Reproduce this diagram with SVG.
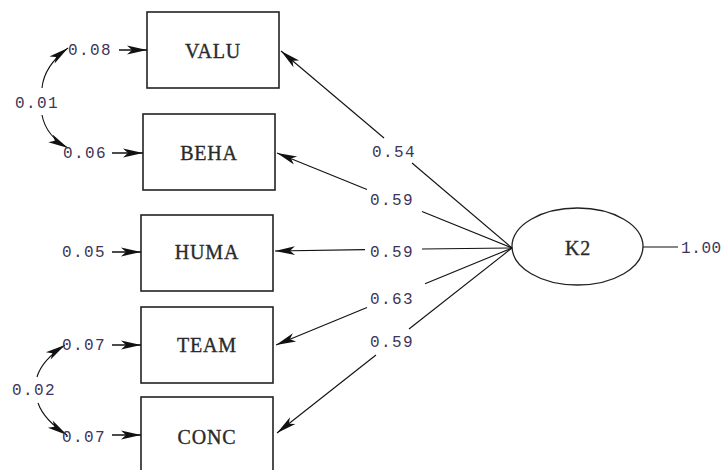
<svg xmlns="http://www.w3.org/2000/svg" width="724" height="470" viewBox="0 0 724 470">
  <style>
    .box { fill: #ffffff; stroke: #222222; stroke-width: 1.6; }
    .oval { fill: #ffffff; stroke: #222222; stroke-width: 1.3; }
    .name { font-family: "Liberation Serif", "DejaVu Serif", serif; font-size: 20px; letter-spacing: 0.8px; fill: #2a2a2a; stroke: #2a2a2a; stroke-width: 0.35; text-anchor: middle; }
    .num { font-family: "Liberation Mono", "DejaVu Sans Mono", monospace; font-size: 16px; letter-spacing: 1.4px; fill: #3d3558; }
    .path { fill: none; stroke: #111111; stroke-width: 1.1; }
    .err { fill: none; stroke: #111111; stroke-width: 1.5; }
  </style>
  <defs>
    <marker id="head" markerUnits="userSpaceOnUse" markerWidth="24" markerHeight="12" viewBox="-22 -6 24 12" refX="0" refY="0" orient="auto">
      <path d="M0,0 L-20,-4.4 L-15,0 L-20,4.4 Z" fill="#111111"/>
    </marker>
  </defs>
  <rect width="724" height="470" fill="#ffffff"/>

  <!-- observed variables -->
  <g id="VALU">
    <rect class="box" x="147" y="12" width="132" height="76"/>
    <text class="name" x="213" y="58">VALU</text>
  </g>
  <g id="BEHA">
    <rect class="box" x="143" y="114" width="132" height="76"/>
    <text class="name" x="209" y="160">BEHA</text>
  </g>
  <g id="HUMA">
    <rect class="box" x="141" y="215" width="132" height="76"/>
    <text class="name" x="207" y="259">HUMA</text>
  </g>
  <g id="TEAM">
    <rect class="box" x="141" y="307" width="132" height="76"/>
    <text class="name" x="207" y="352">TEAM</text>
  </g>
  <g id="CONC">
    <rect class="box" x="141" y="397" width="132" height="76"/>
    <text class="name" x="207" y="444">CONC</text>
  </g>

  <!-- latent variable -->
  <g id="K2">
    <ellipse class="oval" cx="577.5" cy="246.5" rx="65.5" ry="38.5"/>
    <text class="name" x="578" y="255">K2</text>
  </g>

  <!-- paths -->
  <g id="connectors">
    <!-- loadings from K2 -->
    <line class="path" x1="512" y1="248" x2="412" y2="163"/>
    <line class="path" x1="384" y1="138" x2="281" y2="51" marker-end="url(#head)"/>
    <line class="path" x1="512" y1="248" x2="422" y2="211.6"/>
    <line class="path" x1="367" y1="189.4" x2="277" y2="153" marker-end="url(#head)"/>
    <line class="path" x1="512" y1="248" x2="422" y2="249"/>
    <line class="path" x1="365" y1="249.6" x2="275" y2="251" marker-end="url(#head)"/>
    <line class="path" x1="512" y1="248" x2="425" y2="283.8"/>
    <line class="path" x1="367" y1="307.6" x2="276" y2="345" marker-end="url(#head)"/>
    <line class="path" x1="512" y1="248" x2="409" y2="329"/>
    <line class="path" x1="376" y1="355" x2="277" y2="433" marker-end="url(#head)"/>

    <!-- variance of K2 -->
    <line class="path" x1="643" y1="247" x2="678" y2="247"/>

    <!-- error terms -->
    <line class="err" x1="119" y1="50" x2="147" y2="50" marker-end="url(#head)"/>
    <line class="err" x1="112" y1="153" x2="143" y2="153" marker-end="url(#head)"/>
    <line class="err" x1="112" y1="252" x2="141" y2="252" marker-end="url(#head)"/>
    <line class="err" x1="112" y1="345" x2="141" y2="345" marker-end="url(#head)"/>
    <line class="err" x1="112" y1="435" x2="141" y2="435" marker-end="url(#head)"/>

    <!-- error covariances -->
    <path class="path" d="M42,88 Q44,66 68,48" marker-end="url(#head)"/>
    <path class="path" d="M42,115 Q46,136 68,148" marker-end="url(#head)"/>
    <path class="path" d="M37,377 Q42,360 65,345" marker-end="url(#head)"/>
    <path class="path" d="M38,403 Q44,420 67,435" marker-end="url(#head)"/>
  </g>

  <!-- estimates -->
  <g id="labels">
    <text class="num" x="68" y="55">0.08</text>
    <text class="num" x="63" y="158">0.06</text>
    <text class="num" x="62" y="257">0.05</text>
    <text class="num" x="62" y="350">0.07</text>
    <text class="num" x="62" y="442">0.07</text>
    <text class="num" x="15" y="108">0.01</text>
    <text class="num" x="12" y="395">0.02</text>
    <text class="num" x="372" y="157">0.54</text>
    <text class="num" x="370" y="205">0.59</text>
    <text class="num" x="370" y="257">0.59</text>
    <text class="num" x="370" y="304">0.63</text>
    <text class="num" x="370" y="347">0.59</text>
    <text class="num" x="681" y="253" style="letter-spacing:0.6px">1.00</text>
  </g>
</svg>
